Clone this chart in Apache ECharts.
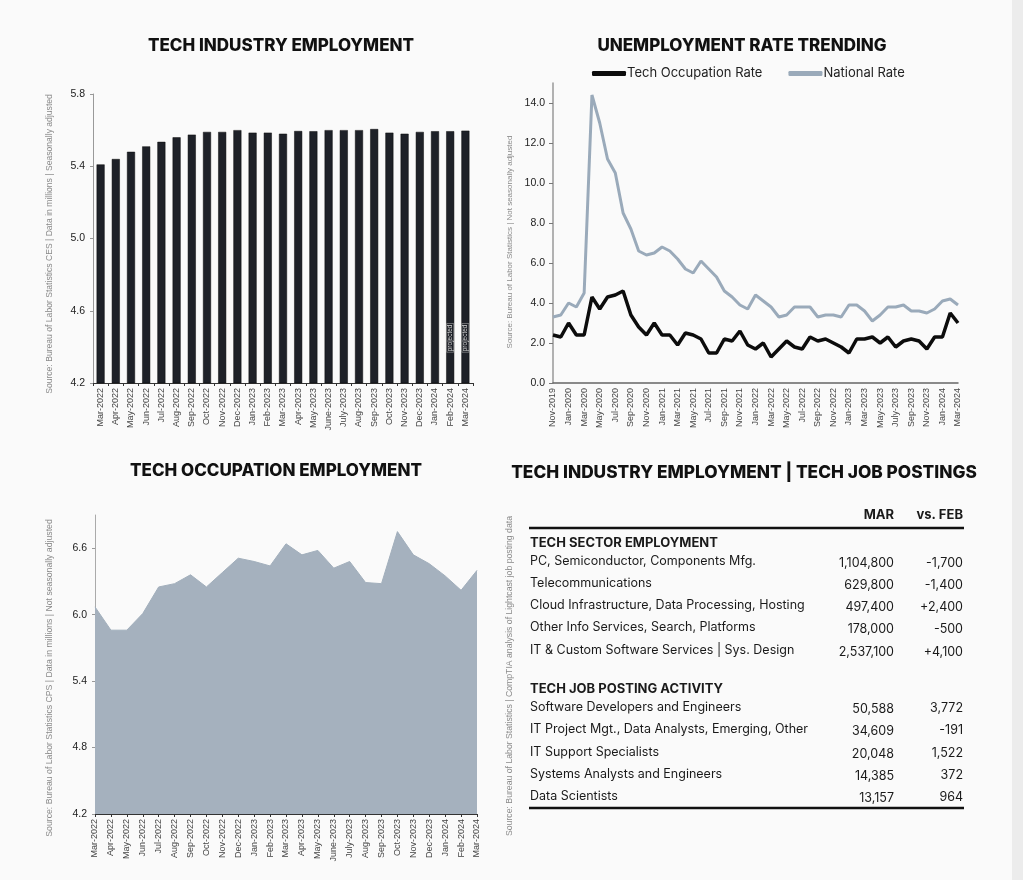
<!DOCTYPE html>
<html><head><meta charset="utf-8">
<script src="https://cdn.jsdelivr.net/npm/echarts@6/dist/echarts.min.js"></script>
<style>
html,body{margin:0;padding:0;background:#fafafa;}
#c{width:1023px;height:880px;}
#strip{position:absolute;left:1012px;top:0;width:11px;height:880px;background:#ececec;}
</style>
</head><body><div id="c"></div><div id="strip"></div>
<script>
// ---------- DATA ----------
const industryMonths = ['Mar-2022','Apr-2022','May-2022','Jun-2022','Jul-2022','Aug-2022','Sep-2022','Oct-2022','Nov-2022','Dec-2022','Jan-2023','Feb-2023','Mar-2023','Apr-2023','May-2023','June-2023','July-2023','Aug-2023','Sep-2023','Oct-2023','Nov-2023','Dec-2023','Jan-2024','Feb-2024','Mar-2024'];
const industryValues = [5.41,5.44,5.48,5.51,5.535,5.56,5.575,5.59,5.59,5.60,5.586,5.586,5.58,5.595,5.594,5.60,5.60,5.60,5.606,5.586,5.58,5.59,5.594,5.594,5.597];
const projectedMonths = ['Feb-2024','Mar-2024'];
const industryTicks = [4.2,4.6,5.0,5.4,5.8];

const occupationValues = [6.07,5.86,5.86,6.01,6.25,6.28,6.36,6.25,6.38,6.51,6.48,6.44,6.64,6.54,6.58,6.42,6.48,6.29,6.28,6.75,6.54,6.46,6.35,6.22,6.40];
const occupationTicks = [4.2,4.8,5.4,6.0,6.6];

const rateMonths = ['Nov-2019','Dec-2019','Jan-2020','Feb-2020','Mar-2020','Apr-2020','May-2020','Jun-2020','Jul-2020','Aug-2020','Sep-2020','Oct-2020','Nov-2020','Dec-2020','Jan-2021','Feb-2021','Mar-2021','Apr-2021','May-2021','Jun-2021','Jul-2021','Aug-2021','Sep-2021','Oct-2021','Nov-2021','Dec-2021','Jan-2022','Feb-2022','Mar-2022','Apr-2022','May-2022','Jun-2022','Jul-2022','Aug-2022','Sep-2022','Oct-2022','Nov-2022','Dec-2022','Jan-2023','Feb-2023','Mar-2023','Apr-2023','May-2023','Jun-2023','July-2023','Aug-2023','Sep-2023','Oct-2023','Nov-2023','Dec-2023','Jan-2024','Feb-2024','Mar-2024'];
const techRate = [2.4,2.3,3.0,2.4,2.4,4.3,3.7,4.3,4.4,4.6,3.4,2.8,2.4,3.0,2.4,2.4,1.9,2.5,2.4,2.2,1.5,1.5,2.2,2.1,2.6,1.9,1.7,2.0,1.3,1.7,2.1,1.8,1.7,2.3,2.1,2.2,2.0,1.8,1.5,2.2,2.2,2.3,2.0,2.3,1.8,2.1,2.2,2.1,1.7,2.3,2.3,3.5,3.0];
const nationalRate = [3.3,3.4,4.0,3.8,4.5,14.4,13.0,11.2,10.5,8.5,7.7,6.6,6.4,6.5,6.8,6.6,6.2,5.7,5.5,6.1,5.7,5.3,4.6,4.3,3.9,3.7,4.4,4.1,3.8,3.3,3.4,3.8,3.8,3.8,3.3,3.4,3.4,3.3,3.9,3.9,3.6,3.1,3.4,3.8,3.8,3.9,3.6,3.6,3.5,3.7,4.1,4.2,3.9];
const rateTicks = [0,2,4,6,8,10,12,14];

const tableHeaders = ['MAR','vs. FEB'];
const sectorTitle = 'TECH SECTOR EMPLOYMENT';
const sectorLabels = ['PC, Semiconductor, Components Mfg.','Telecommunications','Cloud Infrastructure, Data Processing, Hosting','Other Info Services, Search, Platforms','IT & Custom Software Services | Sys. Design'];
const sectorMar = ['1,104,800','629,800','497,400','178,000','2,537,100'];
const sectorChange = ['-1,700','-1,400','+2,400','-500','+4,100'];
const postingTitle = 'TECH JOB POSTING ACTIVITY';
const postingLabels = ['Software Developers and Engineers','IT Project Mgt., Data Analysts, Emerging, Other','IT Support Specialists','Systems Analysts and Engineers','Data Scientists'];
const postingMar = ['50,588','34,609','20,048','14,385','13,157'];
const postingChange = ['3,772','-191','1,522','372','964'];

// ---------- STYLE ----------
const TITLE_FONT = '800 17px Inter, "DejaVu Sans", sans-serif';
const AXFONT = 'Liberation Sans, Arial, sans-serif';

const chart = echarts.init(document.getElementById('c'), null, {renderer:'canvas'});

const graphics = [];
function title(text, x, y, size){
  graphics.push({type:'text', x:x, y:y, style:{text:text, font:'800 ' + (size||17) + 'px Inter, "DejaVu Sans", sans-serif', fill:'#111', textAlign:'center', textVerticalAlign:'middle'}});
}
title('TECH INDUSTRY EMPLOYMENT', 281, 46);
title('UNEMPLOYMENT RATE TRENDING', 742, 46);
title('TECH OCCUPATION EMPLOYMENT', 276, 471);
title('TECH INDUSTRY EMPLOYMENT | TECH JOB POSTINGS', 744, 473, 17.3);

function src(text, x, y, size){
  graphics.push({type:'text', x:x, y:y, rotation:Math.PI/2, style:{text:text, font:size + 'px "Liberation Sans", Arial, sans-serif', fill:'#8a8a8a', textAlign:'center', textVerticalAlign:'middle'}});
}
src('Source: Bureau of Labor Statistics CES | Data in millions | Seasonally adjusted', 50, 244, 8.6);
src('Source: Bureau of Labor Statistics | Not seasonally adjusted', 510, 242, 8);
src('Source: Bureau of Labor Statistics CPS | Data in millions | Not seasonally adjusted', 50, 678, 8.7);
src('Source: Bureau of Labor Statistics | CompTIA analysis of Lightcast job posting data', 510, 676, 8.7);

// table
const TL = 530, TV = 894, TC = 963;
const TFONT = '12.5px Inter, "Noto Sans", sans-serif';
const TBOLD = '700 13px Inter, "Noto Sans", sans-serif';
function ttext(text, x, y, font, align){
  graphics.push({type:'text', x:x, y:y, style:{text:text, font:font, fill:'#1a1a1a', textAlign:align, textVerticalAlign:'middle'}});
}
ttext(tableHeaders[0], TV, 515, TBOLD, 'right');
ttext(tableHeaders[1], TC, 515, TBOLD, 'right');
graphics.push({type:'line', shape:{x1:529,y1:528,x2:964,y2:528}, style:{stroke:'#111', lineWidth:2.5}});
ttext(sectorTitle, TL, 543, TBOLD, 'left');
const sectorY = [561,583,605,627,650];
sectorLabels.forEach((l,i)=>{
  ttext(l, TL, sectorY[i], TFONT, 'left');
  ttext(sectorMar[i], TV, sectorY[i]+2, TFONT, 'right');
  ttext(sectorChange[i], TC, sectorY[i]+2, TFONT, 'right');
});
ttext(postingTitle, TL, 689, TBOLD, 'left');
const postingY = [707,729,752,774,796];
postingLabels.forEach((l,i)=>{
  ttext(l, TL, postingY[i], TFONT, 'left');
  ttext(postingMar[i], TV, postingY[i]+2, TFONT, 'right');
  ttext(postingChange[i], TC, postingY[i]+1, TFONT, 'right');
});
graphics.push({type:'line', shape:{x1:529,y1:808,x2:964,y2:808}, style:{stroke:'#111', lineWidth:2.5}});

const xLabel = {rotate:90, fontSize:9, color:'#444', fontFamily:AXFONT, margin:5};
const yLabel = {fontSize:10.5, color:'#222', fontFamily:AXFONT, margin:8, formatter:v=>Number(v).toFixed(1)};

const option = {
  backgroundColor:'#fafafa',
  animation:false,
  graphic: graphics,
  legend: {
    show:true, top:62, left:587, itemGap:26, itemWidth:34, itemHeight:5, icon:'roundRect',
    textStyle:{fontSize:13, color:'#222', fontFamily:'Inter, "Noto Sans", sans-serif', padding:[0,0,0,-4]},
    data:['Tech Occupation Rate','National Rate']
  },
  grid: [
    {left:93, top:94, width:380, height:289, containLabel:false},
    {left:553, top:83, width:405, height:300, containLabel:false},
    {left:95, top:515, width:382, height:299, containLabel:false}
  ],
  xAxis: [
    {type:'category', gridIndex:0, data:industryMonths, boundaryGap:true,
     axisLine:{lineStyle:{color:'#333', width:1}}, axisTick:{show:true, length:3, lineStyle:{color:'#333'}},
     axisLabel:Object.assign({interval:0}, xLabel)},
    {type:'category', gridIndex:1, data:rateMonths, boundaryGap:false,
     axisLine:{lineStyle:{color:'#666', width:1.5}}, axisTick:{show:false},
     axisLabel:Object.assign({interval:1}, xLabel)},
    {type:'category', gridIndex:2, data:industryMonths, boundaryGap:false,
     axisLine:{lineStyle:{color:'#333', width:1}}, axisTick:{show:true, length:3, interval:0, lineStyle:{color:'#333'}},
     axisLabel:Object.assign({interval:0}, xLabel)}
  ],
  yAxis: [
    {type:'value', gridIndex:0, min:4.2, max:5.8,
     axisLine:{show:true, lineStyle:{color:'#999'}}, axisTick:{show:true, length:3, customValues:industryTicks, lineStyle:{color:'#999'}},
     splitLine:{show:false}, axisLabel:Object.assign({customValues:industryTicks}, yLabel)},
    {type:'value', gridIndex:1, min:0, max:15,
     axisLine:{show:true, lineStyle:{color:'#999', width:1.5}}, axisTick:{show:true, length:4, customValues:rateTicks, lineStyle:{color:'#777'}},
     splitLine:{show:false}, axisLabel:Object.assign({customValues:rateTicks}, yLabel)},
    {type:'value', gridIndex:2, min:4.2, max:6.9,
     axisLine:{show:true, lineStyle:{color:'#aaa'}}, axisTick:{show:true, length:3, customValues:occupationTicks, lineStyle:{color:'#999'}},
     splitLine:{show:false}, axisLabel:Object.assign({customValues:occupationTicks}, yLabel)}
  ],
  series: [
    {type:'bar', name:'Tech Industry Employment', xAxisIndex:0, yAxisIndex:0, barWidth:8,
     itemStyle:{color:'#1e2128', borderColor:'#0a0a0a', borderWidth:0.5},
     data: industryValues.map((v,i)=>{
       if (projectedMonths.indexOf(industryMonths[i])>=0) {
         return {value:v, label:{show:true, position:'insideBottom', distance:31, rotate:90, align:'left', verticalAlign:'middle',
           formatter:'projected', color:'#d8d8d8', fontSize:6.5, fontFamily:AXFONT, borderColor:'#bbb', borderWidth:0.5, padding:[0,1]}};
       }
       return v;
     })},
    {type:'line', name:'National Rate', xAxisIndex:1, yAxisIndex:1, data:nationalRate, showSymbol:false, symbol:'none',
     lineStyle:{color:'#9aaaba', width:3}, itemStyle:{color:'#9aaaba'}},
    {type:'line', name:'Tech Occupation Rate', xAxisIndex:1, yAxisIndex:1, data:techRate, showSymbol:false, symbol:'none',
     lineStyle:{color:'#0c0c0c', width:3.5}, itemStyle:{color:'#0c0c0c'}, z:3},
    {type:'line', name:'Tech Occupation Employment', xAxisIndex:2, yAxisIndex:2, data:occupationValues, showSymbol:false, symbol:'none',
     lineStyle:{color:'#a2afbc', width:1}, areaStyle:{color:'#a5b1be', opacity:1}, itemStyle:{color:'#a5b1be'}}
  ]
};
chart.setOption(option);
</script>
</body></html>
